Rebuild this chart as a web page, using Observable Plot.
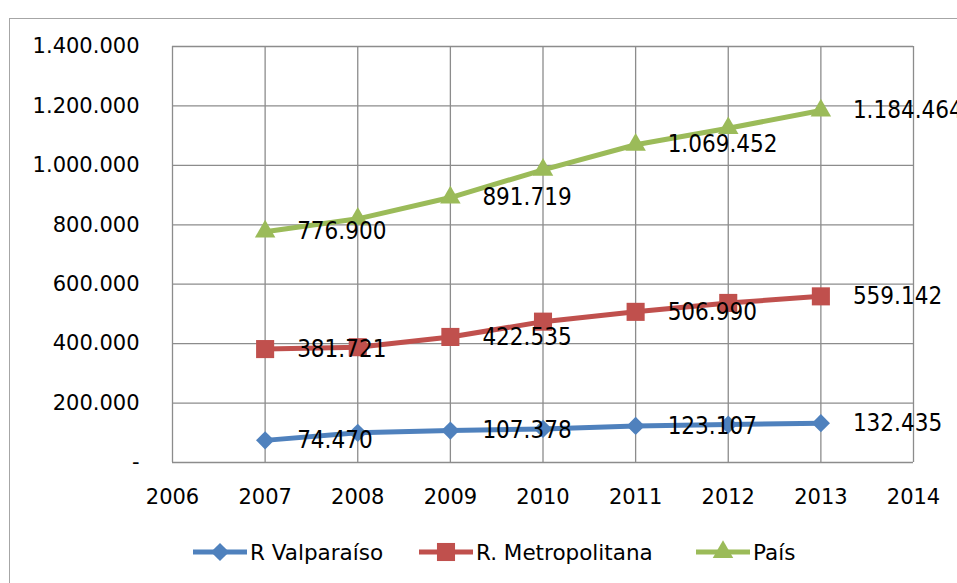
<!DOCTYPE html>
<html>
<head>
<meta charset="utf-8">
<script src="https://cdn.jsdelivr.net/npm/d3@7"></script>
<script src="https://cdn.jsdelivr.net/npm/@observablehq/plot@0.6"></script>
<style>
  html, body { margin: 0; padding: 0; background: #fff; overflow: hidden; }
  #wrap { position: relative; width: 957px; height: 583px; }
  #border { position: absolute; left: 9px; top: 18px; width: 1000px; height: 700px; border: 1.5px solid #a6a6a6; box-sizing: border-box; }
  #chart { position: absolute; left: 0; top: 0; }
  #legend { position: absolute; left: 0; top: 537px; width: 957px; height: 30px; font-family: "DejaVu Sans", sans-serif; font-size: 21.5px; color: #000; }
  .item { position: absolute; top: 0; display: flex; align-items: center; height: 30px; }
  .item svg { display: block; }
</style>
</head>
<body>
<div id="wrap">
  <div id="border"></div>
  <div id="chart"></div>
  <div id="legend"></div>
</div>
<script>
const years = [2007, 2008, 2009, 2010, 2011, 2012, 2013];
const valparaiso = [74470, 100000, 107378, 113000, 123107, 127500, 132435];
const metropolitana = [381721, 388000, 422535, 474000, 506990, 537000, 559142];
const pais = [776900, 820000, 891719, 985000, 1069452, 1125000, 1184464];
const labeledYears = [2007, 2009, 2011, 2013];
const seriesNames = ["R Valparaíso", "R. Metropolitana", "País"];
const seriesColors = ["#4F81BD", "#C0504D", "#9BBB59"];
const seriesSymbols = ["diamond2", "square", "triangle"];
const yTicks = [0, 200000, 400000, 600000, 800000, 1000000, 1200000, 1400000];
const xTicks = [2006, 2007, 2008, 2009, 2010, 2011, 2012, 2013, 2014];

const loc = d3.formatLocale({decimal: ",", thousands: ".", grouping: [3], currency: ["$", ""]});
const fmt = loc.format(",d");
const yFmt = v => v === 0 ? "-" : fmt(v);

const seriesValues = [valparaiso, metropolitana, pais];
const rows = [];
seriesValues.forEach((vals, s) => {
  vals.forEach((v, i) => rows.push({series: seriesNames[s], year: years[i], value: v}));
});
const labelRows = rows.filter(d => labeledYears.includes(d.year));
const symbolR = {"R Valparaíso": 8.2, "R. Metropolitana": 10.2, "País": 7.6};

const marks = [
  Plot.ruleX(xTicks, {stroke: "#8c8c8c", strokeWidth: 1.3, strokeOpacity: 1}),
  Plot.ruleY(yTicks, {stroke: "#8c8c8c", strokeWidth: 1.3, strokeOpacity: 1}),
  Plot.line(rows, {x: "year", y: "value", z: "series", stroke: "series", strokeWidth: 5, curve: "linear"}),
];
seriesNames.forEach((name, s) => {
  marks.push(Plot.dot(rows.filter(d => d.series === name), {
    x: "year", y: "value", fill: seriesColors[s], stroke: "none",
    symbol: () => seriesSymbols[s], r: symbolR[name]
  }));
});
marks.push(Plot.text(labelRows, {
  x: "year", y: "value", text: d => fmt(d.value), dx: 32, textAnchor: "start",
  fontSize: 24, fill: "#000", fontFamily: "'Liberation Sans Narrow', 'DejaVu Sans Condensed', sans-serif"
}));

const chart = Plot.plot({
  width: 957,
  height: 525,
  marginLeft: 172,
  marginRight: 44,
  marginTop: 46,
  marginBottom: 63,
  style: {fontFamily: "'DejaVu Sans', sans-serif", fontSize: "21px", color: "#000", background: "transparent", overflow: "visible"},
  x: {domain: [2006, 2014], ticks: xTicks, tickFormat: d => String(d), tickSize: 0, tickPadding: 27, label: null},
  y: {domain: [0, 1400000], ticks: yTicks, tickFormat: yFmt, tickSize: 0, tickPadding: 33, label: null},
  color: {domain: seriesNames, range: seriesColors},
  marks
});
document.getElementById("chart").appendChild(chart);

// legend
const legend = document.getElementById("legend");
const legendX = [192, 418, 695];
seriesNames.forEach((name, s) => {
  const item = document.createElement("div");
  item.className = "item";
  item.style.left = legendX[s] + "px";
  const ns = "http://www.w3.org/2000/svg";
  const svg = document.createElementNS(ns, "svg");
  svg.setAttribute("width", 56);
  svg.setAttribute("height", 30);
  const line = document.createElementNS(ns, "line");
  line.setAttribute("x1", 1); line.setAttribute("x2", 55);
  line.setAttribute("y1", 15); line.setAttribute("y2", 15);
  line.setAttribute("stroke", seriesColors[s]); line.setAttribute("stroke-width", 5);
  svg.appendChild(line);
  const sym = {"diamond2": d3.symbolDiamond2, "square": d3.symbolSquare, "triangle": d3.symbolTriangle}[seriesSymbols[s]];
  const r = symbolR[name];
  const path = document.createElementNS(ns, "path");
  path.setAttribute("d", d3.symbol(sym, r * r * Math.PI)());
  path.setAttribute("transform", "translate(28,15)");
  path.setAttribute("fill", seriesColors[s]);
  svg.appendChild(path);
  item.appendChild(svg);
  const span = document.createElement("span");
  span.textContent = name;
  span.style.marginLeft = "2px";
  item.appendChild(span);
  legend.appendChild(item);
});
</script>
</body>
</html>
